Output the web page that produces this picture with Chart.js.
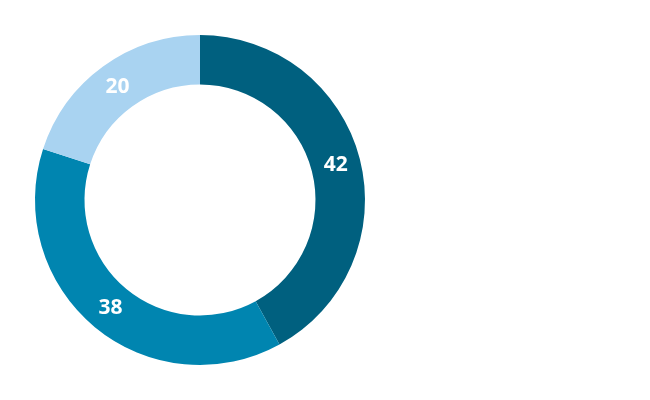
<!DOCTYPE html>
<html><head><meta charset="utf-8">
<script src="https://cdn.jsdelivr.net/npm/chart.js@4/dist/chart.umd.min.js"></script>
<style>html,body{margin:0;padding:0;background:#fff}#wrap{position:absolute;left:0;top:0;width:400px;height:400px}</style>
</head><body><div id="wrap"><canvas id="c"></canvas></div>
<script>
const categories = ["A","B","C"];
const values = [42, 38, 20];
const colors = ["#00607f","#0085b0","#a9d3f1"];
const labelPlugin = {
  id:'lbl',
  afterDatasetsDraw(chart){
    const ctx = chart.ctx;
    chart.getDatasetMeta(0).data.forEach((arc,i)=>{
      const p = arc.getProps(['x','y','startAngle','endAngle','innerRadius','outerRadius'],true);
      const a = (p.startAngle+p.endAngle)/2;
      const r = (p.innerRadius+p.outerRadius)/2;
      ctx.save();
      ctx.fillStyle='#fff';
      ctx.font='bold 21px "Open Sans", sans-serif';
      ctx.textAlign='center';ctx.textBaseline='middle';
      ctx.fillText(String(values[i]), p.x+Math.cos(a)*r, p.y+Math.sin(a)*r);
      ctx.restore();
    });
  }
};
new Chart(document.getElementById('c'),{
  type:'doughnut',
  data:{labels:categories,datasets:[{data:values,backgroundColor:colors,borderWidth:0}]},
  options:{responsive:true,maintainAspectRatio:false,animation:false,cutout:'70%',
    layout:{padding:35},
    plugins:{legend:{display:false},tooltip:{enabled:false}}},
  plugins:[labelPlugin]
});
</script></body></html>
